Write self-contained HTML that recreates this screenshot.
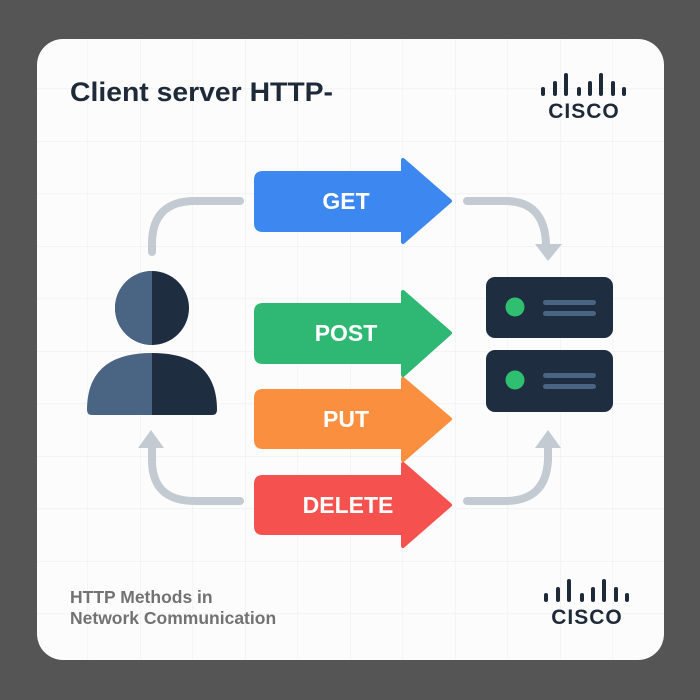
<!DOCTYPE html>
<html><head><meta charset="utf-8"><style>
html,body{margin:0;padding:0;width:700px;height:700px;background:#555555;overflow:hidden}
</style></head><body>
<svg width="700" height="700" viewBox="0 0 700 700" xmlns="http://www.w3.org/2000/svg" style="display:block">
<defs>
<pattern id="g" width="52.5" height="52.5" patternUnits="userSpaceOnUse" x="35" y="36">
<path d="M0 0H52.5M0 0V52.5" stroke="#eceef1" stroke-width="1.2" fill="none"/>
</pattern>
<clipPath id="c"><rect x="37" y="39" width="627" height="621" rx="26"/></clipPath>
</defs>
<rect x="37" y="39" width="627" height="621" rx="26" fill="#fcfcfc"/>
<rect x="37" y="39" width="627" height="621" fill="url(#g)" clip-path="url(#c)"/>

<text x="70" y="101" font-family="Liberation Sans, sans-serif" font-weight="bold" font-size="27" fill="#1e2a38" textLength="263" lengthAdjust="spacingAndGlyphs">Client server  HTTP-</text>

<g fill="#1e2a38">
<g id="logo">
<rect x="541" y="87" width="4" height="9" rx="2"/>
<rect x="553" y="81" width="4" height="15" rx="2"/>
<rect x="564" y="73" width="4" height="23" rx="2"/>
<rect x="577" y="87" width="4" height="9" rx="2"/>
<rect x="588" y="81" width="4" height="15" rx="2"/>
<rect x="599" y="73" width="4" height="23" rx="2"/>
<rect x="611" y="81" width="4" height="15" rx="2"/>
<rect x="622" y="87" width="4" height="9" rx="2"/>
</g>
<text x="584" y="118" text-anchor="middle" font-family="Liberation Sans, sans-serif" font-weight="bold" font-size="21" letter-spacing="1">CISCO</text>
<use href="#logo" transform="translate(3,506)"/>
<text x="587" y="624" text-anchor="middle" font-family="Liberation Sans, sans-serif" font-weight="bold" font-size="21" letter-spacing="1">CISCO</text>
</g>

<g stroke="#c3cad2" stroke-width="8" fill="none" stroke-linecap="round">
<path d="M240 201 H195 Q152 201 152 244 V252"/>
<path d="M467 201 H505 Q545 201 546 245"/>
<path d="M240 501 H195 Q152 501 152 460 V448"/>
<path d="M467 501 H505 Q546 501 548 460 V448"/>
</g>
<g fill="#c3cad2">
<polygon points="535,244 562,244 548,261"/>
<polygon points="138,448 164,448 151,430"/>
<polygon points="535,448 561,448 548,430"/>
</g>

<ellipse cx="152" cy="308" rx="37" ry="37" fill="#1f2d40"/>
<path d="M152 271 A37 37 0 0 0 152 345 Z" fill="#4a6583"/>
<path d="M87 410 Q87 353 152 353 V415 H92 Q87 415 87 410 Z" fill="#4a6583"/>
<path d="M217 410 Q217 353 152 353 V415 H212 Q217 415 217 410 Z" fill="#1f2d40"/>

<g>
<rect x="486" y="277" width="127" height="61" rx="9" fill="#1f2d40"/>
<circle cx="515" cy="307" r="9.5" fill="#2fbf71"/>
<rect x="543" y="300" width="53" height="5" rx="2.5" fill="#4a6583"/>
<rect x="543" y="311" width="53" height="5" rx="2.5" fill="#4a6583"/>
<rect x="486" y="350" width="127" height="62" rx="9" fill="#1f2d40"/>
<circle cx="515" cy="380" r="9.5" fill="#2fbf71"/>
<rect x="543" y="373" width="53" height="5" rx="2.5" fill="#4a6583"/>
<rect x="543" y="384" width="53" height="5" rx="2.5" fill="#4a6583"/>
</g>

<g stroke-linejoin="round" font-family="Liberation Sans, sans-serif" font-weight="bold" font-size="23" text-anchor="middle" fill="#fff">
<path d="M263 173 H403 V160 L450 201 L403 242 V230 H263 Q256 230 256 223 V180 Q256 173 263 173Z" fill="#3d87f0" stroke="#3d87f0" stroke-width="4"/>
<text x="346" y="209" fill="#fff">GET</text>
<path d="M263 305 H403 V292 L450 333 L403 375 V362 H263 Q256 362 256 355 V312 Q256 305 263 305Z" fill="#2fb874" stroke="#2fb874" stroke-width="4"/>
<text x="346" y="341" fill="#fff">POST</text>
<path d="M263 391 H403 V379 L450 419 L403 460 V447 H263 Q256 447 256 440 V398 Q256 391 263 391Z" fill="#f98f3f" stroke="#f98f3f" stroke-width="4"/>
<text x="346" y="427" fill="#fff">PUT</text>
<path d="M263 477 H403 V464 L450 505 L403 546 V533 H263 Q256 533 256 526 V484 Q256 477 263 477Z" fill="#f5524f" stroke="#f5524f" stroke-width="4"/>
<text x="348" y="513" fill="#fff">DELETE</text>
</g>

<g font-family="Liberation Sans, sans-serif" font-weight="bold" font-size="17.5" fill="#727272">
<text x="70" y="603">HTTP Methods in</text>
<text x="70" y="624">Network Communication</text>
</g>
</svg>
</body></html>
